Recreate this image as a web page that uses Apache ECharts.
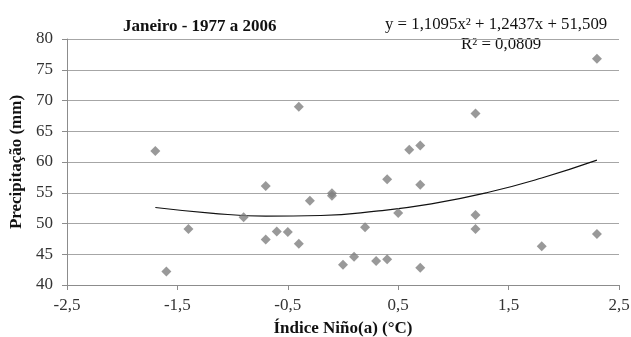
<!DOCTYPE html>
<html>
<head>
<meta charset="utf-8">
<script src="https://cdn.jsdelivr.net/npm/echarts@6/dist/echarts.min.js"></script>
<style>
    html, body { margin: 0; padding: 0; background: #fff; }
    #chart { width: 631px; height: 337px; }
</style>
</head>
<body>
<div id="chart"></div>
<script>
// Índice Niño(a) x precipitação de janeiro, 1977-2006
const nino = [-1.7, -0.4, 2.3, 1.2, 0.6, 0.7, -0.7, -0.3, -0.9, -1.4, -1.6, -0.7, -0.6, -0.5, -0.4,
    -0.1, -0.1, 0.4, 0.7, 0.5, 0.2, 0.0, 0.1, 0.3, 0.4, 0.7, 1.2, 1.2, 1.8, 2.3];
const precip = [61.8, 69.0, 76.8, 67.9, 62.0, 62.7, 56.1, 53.7, 51.0, 49.1, 42.2, 47.4, 48.7, 48.6, 46.7,
    54.5, 54.9, 57.2, 56.3, 51.7, 49.4, 43.3, 44.6, 43.9, 44.2, 42.8, 51.4, 49.1, 46.3, 48.3];

// linha de tendência (polinomial)
const trendX = [-1.7, -1.2, -0.7, -0.2, 0.3, 0.8, 1.3, 1.8, 2.3];
const trendY = [52.6, 51.7, 51.2, 51.3, 52.0, 53.2, 55.0, 57.4, 60.3];

const titleText = 'Janeiro - 1977 a 2006';
const equation = 'y = 1,1095x² + 1,2437x + 51,509';
const rSquared = 'R² = 0,0809';

const serif = '"Liberation Serif", "DejaVu Serif", serif';

const points = nino.map((x, i) => [x, precip[i]]);
const trend = trendX.map((x, i) => [x, trendY[i]]);

const myChart = echarts.init(document.getElementById('chart'));

const options = {
    backgroundColor: '#fff',
    animation: false,
    grid: {
        left: 67,
        right: 12,
        top: 39,
        bottom: 52,
        outerBoundsMode: 'none',
        containLabel: false
    },
    title: {
        text: titleText,
        left: 118,
        top: 13,
        textStyle: {
            fontFamily: serif,
            fontWeight: 'bold',
            fontSize: 17,
            color: '#111'
        }
    },
    graphic: [
        {
            type: 'text',
            left: 385,
            top: 16,
            style: {
                text: equation,
                font: '16.8px ' + serif,
                fill: '#111'
            }
        },
        {
            type: 'text',
            left: 461,
            top: 36,
            style: {
                text: rSquared,
                font: '16.8px ' + serif,
                fill: '#111'
            }
        }
    ],
    xAxis: {
        type: 'value',
        min: -2.5,
        max: 2.5,
        interval: 1,
        name: 'Índice Niño(a) (°C)',
        nameLocation: 'middle',
        nameGap: 35,
        nameTextStyle: {
            fontFamily: serif,
            fontWeight: 'bold',
            fontSize: 17,
            color: '#111'
        },
        axisLine: {show: true, onZero: false, lineStyle: {color: '#8c8c8c', width: 1}},
        axisTick: {show: true, length: 5, lineStyle: {color: '#8c8c8c'}},
        axisLabel: {
            margin: 12,
            fontFamily: serif,
            fontSize: 17,
            color: '#333',
            formatter: (v) => String(v).replace('.', ',')
        },
        splitLine: {show: false}
    },
    yAxis: {
        type: 'value',
        min: 40,
        max: 80,
        interval: 5,
        name: 'Precipitação (mm)',
        nameLocation: 'middle',
        nameGap: 42,
        nameTextStyle: {
            fontFamily: serif,
            fontWeight: 'bold',
            fontSize: 17,
            color: '#111'
        },
        axisLine: {show: true, onZero: false, lineStyle: {color: '#8c8c8c', width: 1}},
        axisTick: {show: true, length: 5, lineStyle: {color: '#8c8c8c'}},
        axisLabel: {
            margin: 14,
            fontFamily: serif,
            fontSize: 17,
            color: '#333'
        },
        splitLine: {show: true, lineStyle: {color: '#a6a6a6', width: 1}}
    },
    series: [
        {
            type: 'scatter',
            data: points,
            symbol: 'diamond',
            symbolSize: 10,
            itemStyle: {color: '#7f7f7f'},
            z: 3
        },
        {
            type: 'line',
            data: trend,
            smooth: true,
            showSymbol: false,
            lineStyle: {color: '#111', width: 1.2},
            z: 2
        }
    ]
};

myChart.setOption(options);
</script>
</body>
</html>
